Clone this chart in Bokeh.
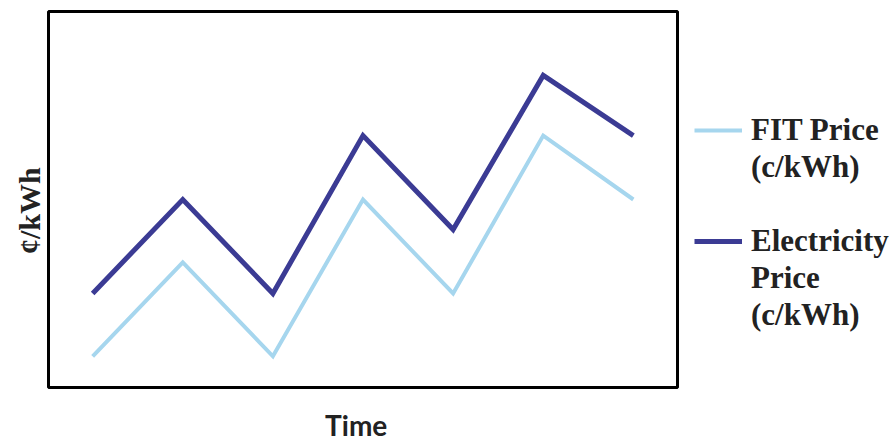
from bokeh.plotting import figure
from bokeh.models import Legend, LegendItem, Range1d
from bokeh.embed import file_html
from bokeh.resources import INLINE

# Data (arbitrary units)
periods = [1, 2, 3, 4, 5, 6, 7]
fit_price = [0.83, 3.33, 0.83, 5.0, 2.5, 6.7, 5.0]
electricity_price = [2.5, 5.0, 2.5, 6.7, 4.2, 8.3, 6.7]

fit_label_lines = ["FIT Price", "(c/kWh)"]
elec_label_lines = ["Electricity", "Price", "(c/kWh)"]
colors = ["#a6d6ee", "#3b3b94"]

p = figure(frame_width=629, frame_height=376, output_backend="svg",
           toolbar_location=None, min_border_left=48, min_border_top=11,
           min_border_right=0, min_border_bottom=0,
           x_range=Range1d(0.51, 7.49), y_range=Range1d(0, 10))

p.background_fill_color = "white"
p.border_fill_color = "white"
p.outline_line_color = "black"
p.outline_line_width = 3
p.grid.visible = False

for ax in (p.xaxis[0], p.yaxis[0]):
    ax.ticker = []
    ax.major_tick_line_color = None
    ax.minor_tick_line_color = None
    ax.axis_line_color = None
    ax.major_label_standoff = 0

p.xaxis.axis_label = "Time\u00a0\u00a0"
p.xaxis.axis_label_text_font = "Lato"
p.xaxis.axis_label_text_font_style = "bold"
p.xaxis.axis_label_text_font_size = "28px"
p.xaxis.axis_label_text_color = "#222222"
p.xaxis.axis_label_standoff = 20

p.yaxis.axis_label = "¢/kWh\u00a0\u00a0\u00a0"
p.yaxis.axis_label_text_font = "Liberation Serif"
p.yaxis.axis_label_text_font_style = "bold"
p.yaxis.axis_label_text_font_size = "30px"
p.yaxis.axis_label_text_color = "#222222"
p.yaxis.axis_label_standoff = 3

r_fit = p.line(periods, fit_price, line_color=colors[0], line_width=4,
               line_join="miter")
r_el = p.line(periods, electricity_price, line_color=colors[1], line_width=5,
              line_join="miter")

items = [LegendItem(label=fit_label_lines[0], renderers=[r_fit])]
items += [LegendItem(label=t, renderers=[]) for t in fit_label_lines[1:]]
items += [LegendItem(label="\u00a0", renderers=[])]
items += [LegendItem(label=elec_label_lines[0], renderers=[r_el])]
items += [LegendItem(label=t, renderers=[]) for t in elec_label_lines[1:]]

legend = Legend(items=items, location=(17, 54))
legend.border_line_color = None
legend.background_fill_alpha = 0
legend.label_text_font = "Liberation Serif"
legend.label_text_font_style = "bold"
legend.label_text_font_size = "31px"
legend.label_text_color = "#222222"
legend.glyph_width = 48
legend.glyph_height = 20
legend.label_height = 37
legend.label_standoff = 9
legend.spacing = 0
legend.padding = 0
legend.margin = 0
p.add_layout(legend, "right")

open("out.html", "w").write(file_html(p, INLINE))
